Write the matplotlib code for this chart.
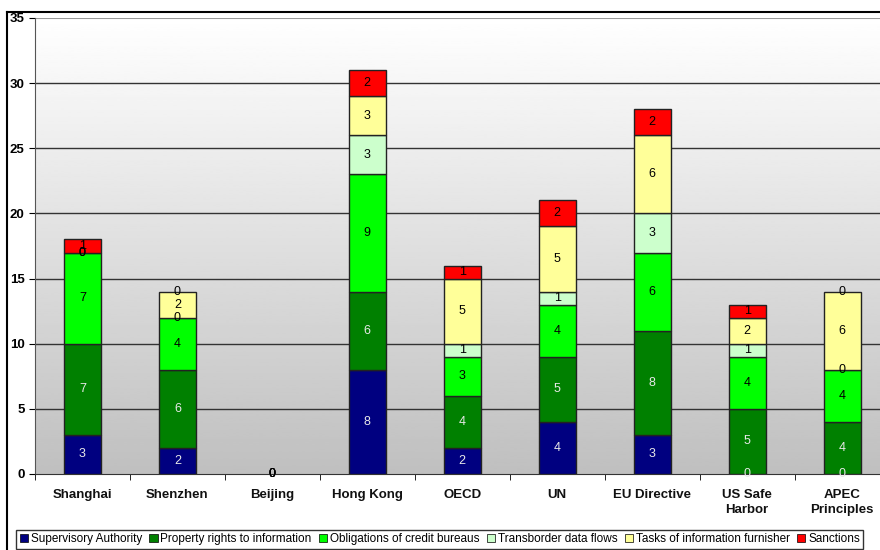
import matplotlib
matplotlib.use("Agg")
import matplotlib.pyplot as plt
import numpy as np
from matplotlib.lines import Line2D

categories = ["Shanghai", "Shenzhen", "Beijing", "Hong Kong", "OECD", "UN",
              "EU Directive", "US Safe\nHarbor", "APEC\nPrinciples"]
series_names = ["Supervisory Authority", "Property rights to information",
                "Obligations of credit bureaus", "Transborder data flows",
                "Tasks of information furnisher", "Sanctions"]
supervisory = [3, 2, 0, 8, 2, 4, 3, 0, 0]
property_rights = [7, 6, 0, 6, 4, 5, 8, 5, 4]
obligations = [7, 4, 0, 9, 3, 4, 6, 4, 4]
transborder = [0, 0, 0, 3, 1, 1, 3, 1, 0]
tasks = [0, 2, 0, 3, 5, 5, 6, 2, 6]
sanctions = [1, 0, 0, 2, 1, 2, 2, 1, 0]
colors = ["#000080", "#008000", "#00ff00", "#ccffcc", "#ffff99", "#ff0000"]
label_colors = ["#e8e8e8", "#e8e8e8", "black", "black", "black", "black"]

plt.rcParams["font.family"] = ["Liberation Sans", "DejaVu Sans"]

fig = plt.figure(figsize=(8.8, 5.5), dpi=100)
ax = fig.add_axes([35 / 880, 1 - 474 / 550, 1 - 35 / 880, (474 - 18) / 550])

# gradient background
grad = np.linspace(0.75, 1.0, 256).reshape(-1, 1)
ax.imshow(grad, cmap="gray", vmin=0, vmax=1, origin="lower", aspect="auto",
          extent=[0, 1, 0, 1], transform=ax.transAxes, zorder=0)

x = np.arange(len(categories))
data = [supervisory, property_rights, obligations, transborder, tasks, sanctions]
bottom = np.zeros(len(categories))
for vals, name, col, lc in zip(data, series_names, colors, label_colors):
    vals = np.array(vals, dtype=float)
    edges = ["#222222" if v > 0 else "none" for v in vals]
    ax.bar(x, vals, 0.39, bottom=bottom, color=col, edgecolor=edges,
           linewidth=1, label=name, zorder=3)
    for xi, v, b in zip(x, vals, bottom):
        ax.text(xi, b + v / 2, "%d" % v, ha="center", va="center",
                fontsize=9, color=lc, zorder=4)
    bottom += vals

ax.set_xlim(-0.5, 8.4)
ax.set_ylim(0, 35)
ax.set_yticks(range(0, 36, 5))
for y in range(5, 31, 5):
    ax.axhline(y, color="#333333", lw=1, zorder=1)
ax.axhline(35, color="#999999", lw=1.5, zorder=1)

ax.set_xticks(x)
ax.set_xticklabels(categories, fontweight="bold", fontsize=9.5, color="#111111",
                   linespacing=1.35)
ax.set_xticks(np.arange(-0.5, 8.5, 1), minor=True)
ax.tick_params(axis="x", which="major", length=0, pad=11)
ax.tick_params(axis="x", which="minor", length=4, direction="out")
ax.tick_params(axis="y", length=4, labelsize=9.5)
for lab in ax.get_yticklabels():
    lab.set_fontweight("bold")

for s in ["top", "right"]:
    ax.spines[s].set_visible(False)
ax.spines["left"].set_color("#555555")
ax.spines["bottom"].set_color("#333333")

leg = fig.legend(loc="lower left", bbox_to_anchor=(15 / 880, 0.0), ncol=6,
                 fontsize=8.5, frameon=True, fancybox=False, handlelength=0.7,
                 handleheight=0.7, handletextpad=0.25, columnspacing=0.6,
                 borderpad=0.3, borderaxespad=0.1)
leg.get_frame().set_edgecolor("black")
leg.get_frame().set_linewidth(1)
for h in leg.legend_handles:
    h.set_edgecolor("black")
    h.set_linewidth(0.5)

fig.add_artist(Line2D([7 / 880, 7 / 880], [0, 1 - 12 / 550], color="black", lw=1.5))
fig.add_artist(Line2D([7 / 880, 1], [1 - 12 / 550, 1 - 12 / 550], color="black", lw=1.5))

fig.savefig("out.png", dpi=100)
